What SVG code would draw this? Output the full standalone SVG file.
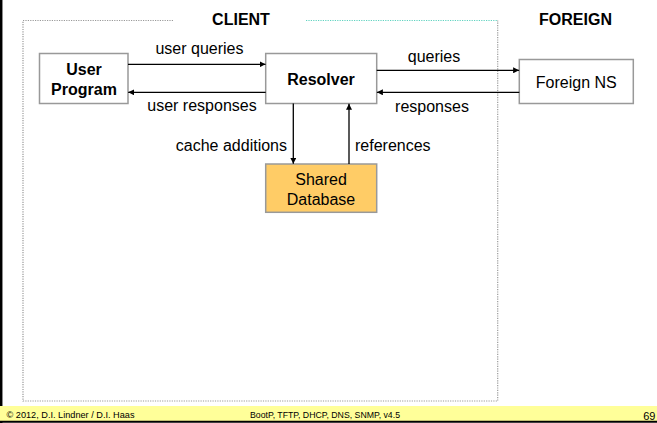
<svg xmlns="http://www.w3.org/2000/svg" width="657" height="423" viewBox="0 0 657 423">
<style>
text{font-family:"Liberation Sans",Arial,sans-serif;fill:#000}
.lbl{font-size:16px}
.b{font-weight:bold}
.box{fill:#fff;stroke:#999;stroke-width:1.5}
.conn line{stroke:#000;stroke-width:1.3}
.dot{stroke:#999;stroke-width:1.2;stroke-dasharray:1.2 1.2;fill:none}
.foot{font-size:9px}
</style>
<defs>
<marker id="ah" viewBox="0 0 10 10" refX="10" refY="5" markerWidth="6" markerHeight="6" markerUnits="userSpaceOnUse" orient="auto">
<path d="M0,0 L10,5 L0,10 z" fill="#000"/>
</marker>
</defs>
<rect width="657" height="423" fill="#fff"/>
<!-- frame -->
<line x1="1.2" y1="0" x2="1.2" y2="423" stroke="#000" stroke-width="2.5"/>
<rect x="0" y="406" width="657" height="15" fill="#FFFF99"/>
<line x1="0" y1="421.7" x2="657" y2="421.7" stroke="#000" stroke-width="2"/>
<text class="foot" x="6.5" y="417.5" textLength="128" lengthAdjust="spacingAndGlyphs">© 2012, D.I. Lindner / D.I. Haas</text>
<text class="foot" x="250" y="417.5" textLength="150" lengthAdjust="spacingAndGlyphs">BootP, TFTP, DHCP, DNS, SNMP, v4.5</text>
<text x="655.5" y="420" font-size="11" text-anchor="end">69</text>
<!-- client region -->
<g id="client-region">
<polyline class="dot" points="173,20.5 23,20.5 23,401 497.7,401 497.7,20.5"/>
<line x1="306" y1="20.5" x2="497.7" y2="20.5" stroke="#5FD3C0" stroke-width="1.2" stroke-dasharray="1.2 1.2"/>
<text class="lbl b" x="241" y="24.5" text-anchor="middle">CLIENT</text>
</g>
<text id="foreign-label" class="lbl b" x="575.5" y="24.5" text-anchor="middle">FOREIGN</text>
<!-- nodes -->
<g id="user-program">
<rect class="box" x="39.5" y="53.5" width="88.5" height="50"/>
<text class="lbl b" x="84" y="75" text-anchor="middle">User</text>
<text class="lbl b" x="84" y="95" text-anchor="middle">Program</text>
</g>
<g id="resolver">
<rect class="box" x="265.7" y="53.5" width="111" height="50"/>
<text class="lbl b" x="321" y="85" text-anchor="middle">Resolver</text>
</g>
<g id="foreign-ns">
<rect class="box" x="519.3" y="59.5" width="114" height="44"/>
<text class="lbl" x="576.3" y="87.5" text-anchor="middle">Foreign NS</text>
</g>
<g id="shared-database">
<rect x="265.7" y="164" width="111" height="48.3" fill="#FFCC66" stroke="#999" stroke-width="1.5"/>
<text class="lbl" x="321" y="185" text-anchor="middle">Shared</text>
<text class="lbl" x="321" y="205" text-anchor="middle">Database</text>
</g>
<!-- connectors -->
<g id="connectors" class="conn">
<line x1="128" y1="64.3" x2="265.5" y2="64.3" marker-end="url(#ah)"/>
<line x1="265.7" y1="92.3" x2="128.2" y2="92.3" marker-end="url(#ah)"/>
<line x1="376.7" y1="70.3" x2="519.1" y2="70.3" marker-end="url(#ah)"/>
<line x1="519.3" y1="92.3" x2="376.9" y2="92.3" marker-end="url(#ah)"/>
<line x1="293.3" y1="103.5" x2="293.3" y2="163.8" marker-end="url(#ah)"/>
<line x1="349" y1="164" x2="349" y2="103.7" marker-end="url(#ah)"/>
</g>
<g id="connector-labels">
<text class="lbl" x="199.5" y="54" text-anchor="middle">user queries</text>
<text class="lbl" x="202" y="111" text-anchor="middle">user responses</text>
<text class="lbl" x="434" y="61.5" text-anchor="middle">queries</text>
<text class="lbl" x="432" y="111.5" text-anchor="middle">responses</text>
<text class="lbl" x="287" y="151" text-anchor="end">cache additions</text>
<text class="lbl" x="355" y="151">references</text>
</g>
</svg>
